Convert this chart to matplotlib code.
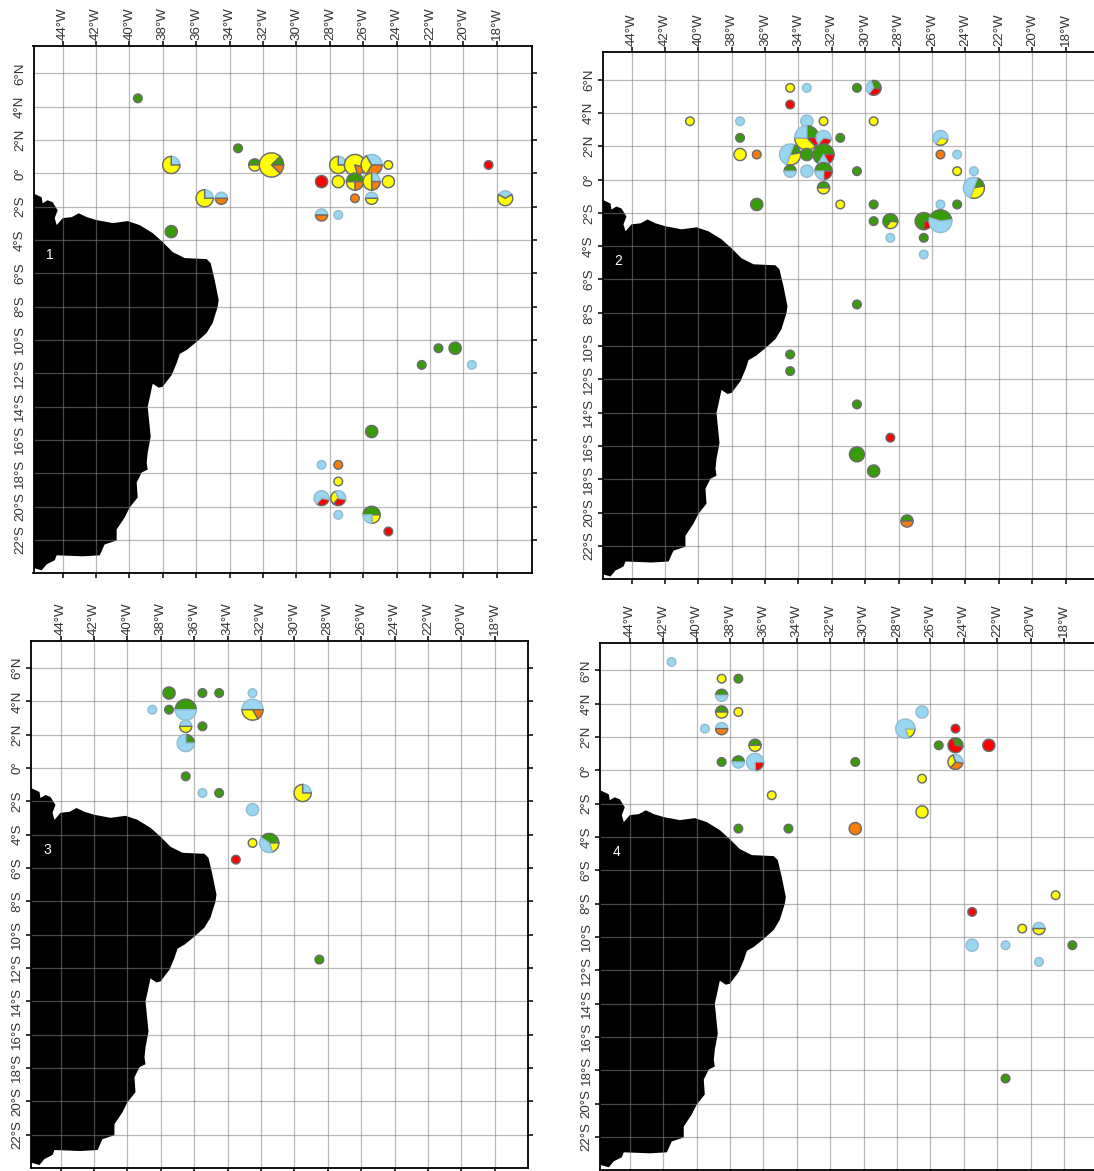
import numpy as np
import matplotlib
matplotlib.use('Agg')
import matplotlib.pyplot as plt

plt.rcParams['font.family'] = ['Liberation Sans', 'DejaVu Sans']

W, H = 1094, 1171
PX_LON = 16.7
PX_LAT = 16.66

# g green, r red, y yellow, o orange, b blue
colors = {'g': '#389c08', 'r': '#ff0000', 'y': '#ffff00', 'o': '#fa7d08', 'b': '#99d6f2'}

lon_ticks = list(range(-44, -16, 2))
lat_ticks = list(range(6, -24, -2))

# coastline, lon then lat
coast_lon = [-47, -45.77, -45.26, -45.2, -44.9, -44.6, -44.3, -44.48, -44.36, -44, -43.46, -43.04,
             -42.56, -41.96, -41, -40.1, -39.39, -38.61, -38.01, -37.41, -36.69, -35.38, -35.14,
             -34.9, -34.66, -34.72, -35.02, -35.38, -35.98, -36.57, -36.99, -37.17, -37.47, -38.01,
             -38.25, -38.61, -38.79, -38.91, -38.73, -38.91, -38.97, -38.91, -39.27, -39.57, -39.51,
             -39.99, -40.29, -40.77, -40.77, -41.49, -41.78, -42.8, -44.36, -44.48, -44.96, -45.26,
             -45.68, -47, -47]
coast_lat = [-1.2, -1.2, -1.44, -1.8, -1.62, -1.74, -2.22, -2.69, -3.11, -2.69, -2.63, -2.4,
             -2.63, -2.81, -2.99, -2.87, -3.11, -3.59, -4.13, -4.73, -5.09, -5.15, -5.39,
             -6.41, -7.6, -8.02, -8.98, -9.58, -10.12, -10.6, -10.84, -11.38, -12.1, -12.81,
             -12.87, -12.63, -13.47, -14.01, -15.81, -16.77, -17.37, -17.78, -17.96, -18.56, -19.46,
             -20.06, -20.66, -21.38, -22.04, -22.28, -22.93, -22.99, -22.93, -23.23, -23.47, -23.83,
             -23.71, -23.71, -1.2]

# lon, lat, slices clockwise, counts, angle of first slice from north
catches_1 = [
    (-39.5, 4.5, 'g', [1], 0), (-37.5, 0.5, 'by', [1, 3], 0), (-33.5, 1.5, 'g', [1], 0),
    (-32.5, 0.5, 'gy', [1, 1], -90), (-31.5, 0.5, 'goy', [1, 1, 6], 45),
    (-35.5, -1.5, 'by', [1, 3], 0), (-34.5, -1.5, 'bo', [1, 1], -90), (-37.5, -3.5, 'g', [2], 0),
    (-27.5, 0.5, 'by', [1, 3], 0), (-26.5, 0.5, 'yo', [5, 1], 165),
    (-25.5, 0.5, 'boy', [2, 2, 2], -30), (-24.5, 0.5, 'y', [1], 0),
    (-28.5, -0.5, 'r', [2], 0), (-27.5, -0.5, 'y', [2], 0), (-26.5, -0.5, 'goy', [2, 1, 1], -90),
    (-25.5, -0.5, 'boy', [1, 1, 2], 0), (-24.5, -0.5, 'y', [2], 0),
    (-26.5, -1.5, 'o', [1], 0), (-25.5, -1.5, 'by', [1, 1], -90),
    (-28.5, -2.5, 'bo', [1, 1], -90), (-27.5, -2.5, 'b', [1], 0),
    (-18.5, 0.5, 'r', [1], 0), (-17.5, -1.5, 'by', [1, 2], -60),
    (-21.5, -10.5, 'g', [1], 0), (-20.5, -10.5, 'g', [2], 0), (-22.5, -11.5, 'g', [1], 0),
    (-19.5, -11.5, 'b', [1], 0), (-25.5, -15.5, 'g', [2], 0),
    (-28.5, -17.5, 'b', [1], 0), (-27.5, -17.5, 'o', [1], 0), (-27.5, -18.5, 'y', [1], 0),
    (-28.5, -19.5, 'rb', [1, 2], 100), (-27.5, -19.5, 'ryb', [1, 1, 1], 100),
    (-27.5, -20.5, 'b', [1], 0), (-25.5, -20.5, 'gyb', [2, 1, 1], -90), (-24.5, -21.5, 'r', [1], 0),
]

catches_2 = [
    (-40.5, 3.5, 'y', [1], 0), (-37.5, 3.5, 'b', [1], 0), (-37.5, 2.5, 'g', [1], 0),
    (-37.5, 1.5, 'y', [2], 0), (-36.5, 1.5, 'o', [1], 0), (-36.5, -1.5, 'g', [2], 0),
    (-34.5, 5.5, 'y', [1], 0), (-33.5, 5.5, 'b', [1], 0), (-34.5, 4.5, 'r', [1], 0),
    (-33.5, 3.5, 'b', [2], 0), (-32.5, 3.5, 'y', [1], 0),
    (-33.5, 2.5, 'gryb', [2, 1, 3, 2], 0), (-32.5, 2.5, 'rb', [1, 2], 100), (-31.5, 2.5, 'g', [1], 0),
    (-34.5, 1.5, 'gyb', [1, 2, 3], 20), (-33.5, 1.5, 'g', [2], 0),
    (-32.5, 1.5, 'grb', [4, 1, 1], -150), (-33.5, 0.5, 'b', [2], 0),
    (-34.5, 0.5, 'gb', [1, 1], -90), (-32.5, 0.5, 'grb', [2, 1, 1], -90),
    (-32.5, -0.5, 'gy', [1, 1], -90), (-31.5, -1.5, 'y', [1], 0),
    (-30.5, 5.5, 'g', [1], 0), (-29.5, 5.5, 'grb', [1, 1, 1], -20), (-29.5, 3.5, 'y', [1], 0),
    (-30.5, 0.5, 'g', [1], 0), (-29.5, -1.5, 'g', [1], 0), (-29.5, -2.5, 'g', [1], 0),
    (-28.5, -2.5, 'yg', [1, 2], 95), (-28.5, -3.5, 'b', [1], 0),
    (-30.5, -7.5, 'g', [1], 0), (-34.5, -10.5, 'g', [1], 0), (-34.5, -11.5, 'g', [1], 0),
    (-30.5, -13.5, 'g', [1], 0), (-30.5, -16.5, 'g', [3], 0), (-28.5, -15.5, 'r', [1], 0),
    (-29.5, -17.5, 'g', [2], 0), (-27.5, -20.5, 'go', [1, 1], -90),
    (-26.5, -2.5, 'rg', [1, 3], 90), (-26.5, -3.5, 'g', [1], 0), (-26.5, -4.5, 'b', [1], 0),
    (-25.5, 2.5, 'yb', [1, 2], 100), (-25.5, 1.5, 'o', [1], 0), (-24.5, 1.5, 'b', [1], 0),
    (-24.5, 0.5, 'y', [1], 0), (-23.5, 0.5, 'b', [1], 0), (-23.5, -0.5, 'gyb', [1, 2, 3], 20),
    (-25.5, -1.5, 'b', [1], 0), (-24.5, -1.5, 'g', [1], 0), (-25.5, -2.5, 'gb', [3, 4], -72),
]

catches_3 = [
    (-37.5, 4.5, 'g', [2], 0), (-35.5, 4.5, 'g', [1], 0), (-34.5, 4.5, 'g', [1], 0),
    (-32.5, 4.5, 'b', [1], 0), (-38.5, 3.5, 'b', [1], 0), (-37.5, 3.5, 'g', [1], 0),
    (-36.5, 3.5, 'gb', [3, 3], -90), (-32.5, 3.5, 'boy', [3, 1, 2], -90),
    (-36.5, 2.5, 'by', [1, 1], -90), (-35.5, 2.5, 'g', [1], 0), (-36.5, 1.5, 'gb', [1, 3], 0),
    (-36.5, -0.5, 'g', [1], 0), (-35.5, -1.5, 'b', [1], 0), (-34.5, -1.5, 'g', [1], 0),
    (-29.5, -1.5, 'by', [1, 3], 0), (-32.5, -2.5, 'b', [2], 0), (-32.5, -4.5, 'y', [1], 0),
    (-31.5, -4.5, 'gyb', [2, 1, 2], -55), (-33.5, -5.5, 'r', [1], 0), (-28.5, -11.5, 'g', [1], 0),
]

catches_4 = [
    (-41.5, 6.5, 'b', [1], 0), (-38.5, 5.5, 'y', [1], 0), (-37.5, 5.5, 'g', [1], 0),
    (-38.5, 4.5, 'gb', [1, 1], -90), (-38.5, 3.5, 'gy', [1, 1], -90), (-37.5, 3.5, 'y', [1], 0),
    (-39.5, 2.5, 'b', [1], 0), (-38.5, 2.5, 'bo', [1, 1], -90), (-36.5, 1.5, 'gy', [1, 1], -90),
    (-38.5, 0.5, 'g', [1], 0), (-37.5, 0.5, 'gb', [1, 1], -90), (-36.5, 0.5, 'rb', [1, 3], 90),
    (-35.5, -1.5, 'y', [1], 0), (-37.5, -3.5, 'g', [1], 0), (-34.5, -3.5, 'g', [1], 0),
    (-30.5, 0.5, 'g', [1], 0), (-30.5, -3.5, 'o', [2], 0), (-27.5, 2.5, 'yb', [1, 4], 90),
    (-26.5, 3.5, 'b', [2], 0), (-26.5, -0.5, 'y', [1], 0), (-26.5, -2.5, 'y', [2], 0),
    (-25.5, 1.5, 'g', [1], 0), (-24.5, 2.5, 'r', [1], 0), (-24.5, 1.5, 'gr', [1, 2], -20),
    (-24.5, 0.5, 'boy', [1, 1, 1], -20), (-22.5, 1.5, 'r', [2], 0), (-23.5, -8.5, 'r', [1], 0),
    (-18.5, -7.5, 'y', [1], 0), (-20.5, -9.5, 'y', [1], 0), (-19.5, -9.5, 'by', [1, 1], -90),
    (-23.5, -10.5, 'b', [2], 0), (-21.5, -10.5, 'b', [1], 0), (-19.5, -11.5, 'b', [1], 0),
    (-17.5, -10.5, 'g', [1], 0), (-21.5, -18.5, 'g', [1], 0),
]


def drawPanel(fig, catches, number, box, x44, y0, closed_right, left_ticks):
    left, right, top, bottom = box
    ax = fig.add_axes([left / W, 1 - bottom / H, (right - left) / W, (bottom - top) / H])

    ax.fill(coast_lon, coast_lat, color='black', lw=0, zorder=1)

    for lon, lat, kinds, counts, start in catches:
        radius = 4.3 * np.sqrt(sum(counts)) / PX_LON
        wedges, _ = ax.pie(counts, colors=[colors[k] for k in kinds], center=(lon, lat), radius=radius,
                           startangle=90 - start, counterclock=False, frame=True,
                           wedgeprops={'edgecolor': '#6b6b6b', 'linewidth': 1.05, 'zorder': 3})
        for w, k in zip(wedges, kinds):
            if k == 'b':
                w.set_edgecolor('#93bcd0')

    ax.set_aspect('auto')
    ax.set_xlim(-44 + (left - x44) / PX_LON, -44 + (right - x44) / PX_LON)
    ax.set_ylim((y0 - bottom) / PX_LAT, (y0 - top) / PX_LAT)

    ax.set_xticks(lon_ticks)
    ax.set_xticklabels(['%d°W' % abs(v) for v in lon_ticks], rotation=90)
    ax.set_yticks(lat_ticks)
    ax.set_yticklabels(['0°' if v == 0 else '%d°%s' % (abs(v), 'N' if v > 0 else 'S') for v in lat_ticks],
                       rotation=90, va='center')
    ax.tick_params(top=True, labeltop=True, bottom=True, labelbottom=False, right=closed_right,
                   left=left_ticks, labelsize=9.6, labelcolor='#333333', length=3.8, width=1.1)
    ax.tick_params(axis='x', pad=0.5)
    ax.tick_params(axis='y', pad=1.5)

    ax.set_axisbelow('line')
    ax.grid(True, color='#808080', alpha=0.55, lw=0.9)
    for side in ax.spines:
        ax.spines[side].set_linewidth(1.3)
    ax.spines['right'].set_visible(closed_right)

    ax.text(-44.8, -4.9, number, color='white', fontsize=10, ha='center', va='center', zorder=4)
    return ax


fig = plt.figure(figsize=(W / 100, H / 100), dpi=100)
drawPanel(fig, catches_1, '1', (33.5, 532, 46, 573), 62.7, 173.3, True, False)
drawPanel(fig, catches_2, '2', (602.5, 1095, 52, 579.3), 631.5, 179.5, False, True)
drawPanel(fig, catches_3, '3', (30.7, 528, 640.5, 1168), 60.5, 768, True, True)
drawPanel(fig, catches_4, '4', (600, 1095, 643.3, 1170), 629.8, 770.3, False, True)
fig.savefig('out.png', dpi=100)
